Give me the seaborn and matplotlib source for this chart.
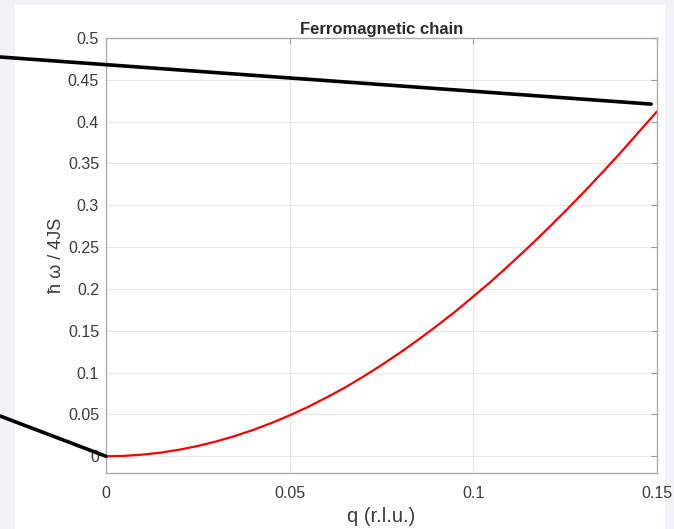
import numpy as np
import pandas as pd
import matplotlib
matplotlib.use('Agg')
import matplotlib.pyplot as plt
import seaborn as sns
from matplotlib.patches import Rectangle
from matplotlib.ticker import FormatStrFormatter

# Dispersion of the ferromagnetic chain
q_values = [0.000, 0.005, 0.010, 0.015, 0.020, 0.025, 0.030, 0.035,
            0.040, 0.045, 0.050, 0.055, 0.060, 0.065, 0.070, 0.075,
            0.080, 0.085, 0.090, 0.095, 0.100, 0.105, 0.110, 0.115,
            0.120, 0.125, 0.130, 0.135, 0.140, 0.145, 0.150]
energy_values = [0.0000, 0.0005, 0.0020, 0.0044, 0.0079, 0.0123, 0.0177, 0.0241,
                 0.0314, 0.0397, 0.0489, 0.0590, 0.0702, 0.0820, 0.0951, 0.1090,
                 0.1237, 0.1393, 0.1557, 0.1727, 0.1910, 0.2096, 0.2295, 0.2499,
                 0.2710, 0.2929, 0.3154, 0.3387, 0.3625, 0.3874, 0.4122]

x_ticks = [0, 0.05, 0.1, 0.15]
y_ticks = [0, 0.05, 0.1, 0.15, 0.2, 0.25, 0.3, 0.35, 0.4, 0.45, 0.5]

# the two black pointer lines: (data point, figure fraction start)
pointer_ends = [(0.1484, 0.421), (0.0, 0.0)]
pointer_starts = [(0.0, 1 - 57 / 529), (0.0, 1 - 416 / 529)]

df = pd.DataFrame({'q': q_values, 'energy': energy_values})

sns.set_style('white')
plt.rcParams['font.family'] = ['Liberation Sans', 'DejaVu Sans']

fig = plt.figure(figsize=(6.74, 5.29), dpi=100, facecolor='#f0f2f5')
# white panel behind the plot
fig.patches.append(Rectangle((15 / 674, 0), (665 - 15) / 674, 1 - 5 / 529,
                             transform=fig.transFigure, facecolor='white',
                             edgecolor='none', zorder=-5))

ax = fig.add_axes([106 / 674, 1 - 473 / 529, (657 - 106) / 674, (473 - 38) / 529])
ax.set_zorder(2)
ax.set_facecolor('white')

sns.lineplot(x='q', y='energy', data=df, color='#ff0000', linewidth=1.6, ax=ax)

ax.set_xlim(0, 0.15)
ax.set_ylim(-0.02, 0.5)
ax.set_xticks(x_ticks)
ax.set_yticks(y_ticks)
ax.xaxis.set_major_formatter(FormatStrFormatter('%g'))
ax.yaxis.set_major_formatter(FormatStrFormatter('%g'))
ax.grid(True, color='#e8e8e8', linewidth=0.8)
ax.tick_params(direction='in', length=4, width=0.8, colors='#9a9a9a',
               labelcolor='#3a3a3a', labelsize=11.5, top=True, right=True)
ax.tick_params(axis='x', pad=9)
ax.tick_params(axis='y', pad=5)
for spine in ax.spines.values():
    spine.set_color('#a6a6a6')
    spine.set_linewidth(0.9)

ax.set_xlabel('q (r.l.u.)', fontsize=14.5, color='#3a3a3a', labelpad=5)
ax.set_ylabel('ħ ω / 4JS', fontsize=13, color='#3a3a3a', labelpad=2)
ax.set_title('Ferromagnetic chain', fontsize=12, fontweight='bold',
             color='#2a2a2a', pad=3)

# pointer lines drawn from outside the figure edge to the data
for end, start in zip(pointer_ends, pointer_starts):
    ax.annotate('', xy=end, xycoords='data', xytext=start,
                textcoords='figure fraction', annotation_clip=False,
                arrowprops=dict(arrowstyle='-', color='black', lw=2.6,
                                shrinkA=0, shrinkB=0))

plt.savefig('out.png', dpi=100, facecolor=fig.get_facecolor())
